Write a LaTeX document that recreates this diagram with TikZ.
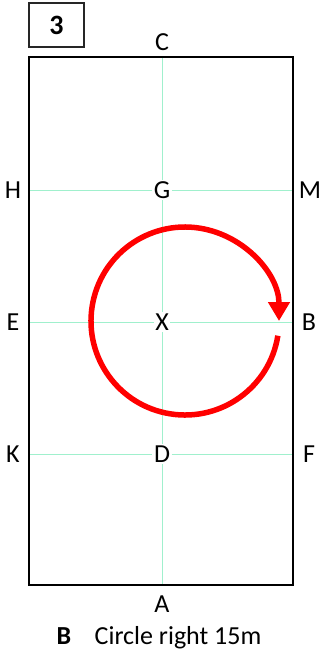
\documentclass[tikz,border=0pt]{standalone}
\usepackage{fontspec}
\setmainfont{Carlito}
\usetikzlibrary{arrows.meta,positioning}
\definecolor{gridGreen}{RGB}{160,240,205}
\tikzset{
myArena/.style={
	rectangle,draw=black,line width=2pt,
	inner sep=0pt,minimum width=264pt,minimum height=528pt
}
, myBox/.style={
	rectangle,draw=black!85,line width=1.6pt,
	inner sep=0pt,minimum width=55pt,minimum height=44pt,
	font=\fontsize{28}{30}\selectfont\bfseries
}
, myLetter/.style={
	inner sep=1.5pt,text=black,
	font=\fontsize{26}{30}\selectfont
}
% lines
, myGrid/.style={color=gridGreen,line width=1pt}
, myCircle/.style={-{Triangle[length=19pt,width=21pt]},color=red,line width=5.5pt}
}

\begin{document}
\begin{tikzpicture}[x=1pt,y=-1pt]
	\useasboundingbox (0,0) rectangle (325,654);
	% letters
	\node[myLetter] (C) at (162,42) {C};
	\node[myLetter] (A) at (162,604) {A};
	\node[myLetter] (H) at (13,190) {H};
	\node[myLetter] (E) at (13,322) {E};
	\node[myLetter] (K) at (13,454) {K};
	\node[myLetter] (M) at (310,190) {M};
	\node[myLetter] (B) at (309,322) {B};
	\node[myLetter] (F) at (309,454) {F};
	\node[myLetter] (G) at (162,190) {G};
	\node[myLetter] (X) at (162,322) {X};
	\node[myLetter] (D) at (162,454) {D};
	% grid
	\coordinate (Top) at (162,57);
	\coordinate (Bottom) at (162,585);
	\draw[myGrid] (Top) -- (G) (G) -- (X) (X) -- (D) (D) -- (Bottom);
	\foreach \mid in {G,X,D}
		\draw[myGrid] (29,0 |- \mid) -- (\mid) (\mid) -- (293,0 |- \mid);
	% arena
	\node[myArena] (Arena) at (161,321) {};
	\node[myBox] (Test) at (56.5,25) {3};
	% circle
	\coordinate (Centre) at (185,321);
	\draw[myCircle] ([shift={(9:94)}]Centre) arc[start angle=9,end angle=360,radius=94];
	% caption
	\node[myLetter,anchor=base west,font=\fontsize{26}{30}\selectfont\bfseries] (Letter) at (55,644) {B};
	\node[myLetter,anchor=base west,font=\fontsize{26}{30}\selectfont] (Caption) at (93,644) {Circle right 15m};
\end{tikzpicture}
\end{document}
